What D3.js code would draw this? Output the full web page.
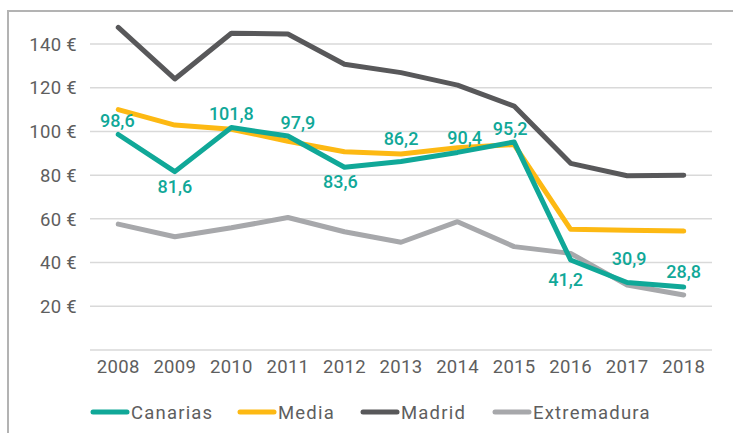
<!DOCTYPE html>
<html><head><meta charset="utf-8">
<script src="https://cdn.jsdelivr.net/npm/d3@7"></script>
<style>body{margin:0;background:#fff}svg{display:block;font-family:Roboto,"Noto Sans",sans-serif}</style>
</head><body><svg id="c" width="733" height="433"></svg>
<script>
const years = ["2008","2009","2010","2011","2012","2013","2014","2015","2016","2017","2018"];
const canarias = [98.6,81.6,101.8,97.9,83.6,86.2,90.4,95.2,41.2,30.9,28.8];
const media = [110.0,102.9,101.0,95.5,90.7,89.7,92.5,94.0,55.2,54.8,54.4];
const madrid = [147.6,124.0,144.9,144.6,130.7,126.9,121.2,111.6,85.4,79.7,80.0];
const extremadura = [57.6,51.8,55.9,60.6,54.1,49.3,58.7,47.3,44.2,29.7,25.2];
const yTicks = [20,40,60,80,100,120,140];
const labelPos = ["above","below","above","above","below","above","above","above","below","above","above"];
const seriesNames = ["Canarias","Media","Madrid","Extremadura"];
const colors = {"Canarias":"#10a898","Media":"#fdb913","Madrid":"#58585a","Extremadura":"#a7a8ab"};

const svg = d3.select("#c");
const x = d3.scalePoint().domain(years).range([90,712]).padding(0.5);
const y = d3.scaleLinear().domain([0,140]).range([350,44]);

// frame
svg.append("path").attr("d","M8,433V11H733").attr("fill","none").attr("stroke","#b3b3b3").attr("stroke-width",2);

// grid
svg.append("g").selectAll("line").data([0].concat(yTicks)).join("line")
  .attr("x1",90).attr("x2",712).attr("y1",d=>y(d)).attr("y2",d=>y(d))
  .attr("stroke","#d9d9d9").attr("stroke-width",1.5);

// y labels
svg.append("g").selectAll("text").data(yTicks).join("text")
  .attr("x",77).attr("y",d=>y(d)).attr("dy","0.36em").attr("text-anchor","end")
  .attr("fill","#5e5e5e").attr("font-size",18.5).attr("letter-spacing",0.3).text(d=>d+" €");

// x labels
svg.append("g").selectAll("text").data(years).join("text")
  .attr("x",d=>x(d)).attr("y",373).attr("text-anchor","middle")
  .attr("fill","#5e5e5e").attr("font-size",18.5).attr("letter-spacing",0.3).text(d=>d);

const data = {"Canarias":canarias,"Media":media,"Madrid":madrid,"Extremadura":extremadura};
const line = d3.line().x((d,i)=>x(years[i])).y(d=>y(d));
["Extremadura","Madrid","Media","Canarias"].forEach(n=>{
  svg.append("path").datum(data[n]).attr("d",line).attr("fill","none")
    .attr("stroke",colors[n]).attr("stroke-width",5).attr("stroke-linecap","round").attr("stroke-linejoin","round");
});

// value labels
const offs = {above:-7, below:21};
const special = {5:-17, 6:-8, 9:-17, 10:-9, 8:26};
const dxs = {0:-1, 3:10, 4:-4, 6:7, 7:-4, 8:-5, 9:2};
svg.append("g").selectAll("text").data(canarias).join("text")
  .attr("x",(d,i)=>x(years[i])+(dxs[i]||0))
  .attr("y",(d,i)=>y(d)+(special[i]!==undefined?special[i]:offs[labelPos[i]]))
  .attr("text-anchor","middle").attr("fill",colors.Canarias).attr("font-size",18).attr("font-weight",500)
  .text(d=>String(d).replace(".",","));

// legend
const legX = [93,240,363,495];
const lg = svg.append("g");
seriesNames.forEach((n,i)=>{
  lg.append("line").attr("x1",legX[i]).attr("x2",legX[i]+34).attr("y1",412).attr("y2",412)
    .attr("stroke",colors[n]).attr("stroke-width",5).attr("stroke-linecap","round");
  lg.append("text").attr("x",legX[i]+38).attr("y",412).attr("dy","0.36em")
    .attr("fill","#5e5e5e").attr("font-size",18.5).attr("letter-spacing",1.2).text(n);
});
</script></body></html>
